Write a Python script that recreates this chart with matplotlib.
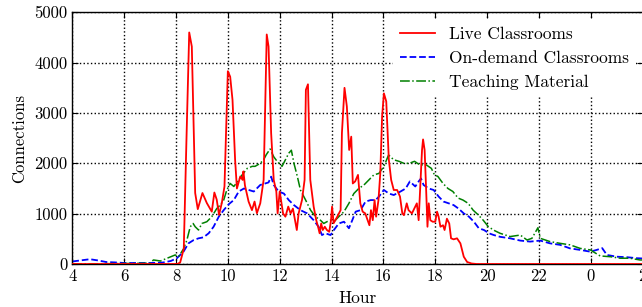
import matplotlib
matplotlib.use("Agg")
import matplotlib.pyplot as plt

plt.rcParams['font.family'] = ['cmr10', 'DejaVu Serif']
plt.rcParams['axes.formatter.use_mathtext'] = True
plt.rcParams['mathtext.fontset'] = 'cm'

# ---- data (hours since midnight, >24 means next day) ----
live_hours = [4.0, 7.0, 8.05, 8.16, 8.3, 8.4, 8.51, 8.61, 8.74, 8.84, 9.02, 9.19, 9.38, 9.48, 9.57,
              9.66, 9.77, 9.87, 9.96, 10.0, 10.09, 10.18, 10.28, 10.35, 10.48, 10.57, 10.6, 10.66,
              10.8, 10.93, 11.03, 11.12, 11.25, 11.38, 11.5, 11.57, 11.67, 11.77, 11.87, 11.92,
              12.0, 12.05, 12.13, 12.22, 12.33, 12.42, 12.51, 12.59, 12.66, 12.73, 12.86, 12.96,
              13.01, 13.09, 13.18, 13.31, 13.41, 13.48, 13.54, 13.6, 13.66, 13.74, 13.82, 13.91,
              13.98, 14.02, 14.08, 14.22, 14.35, 14.4, 14.5, 14.59, 14.68, 14.76, 14.82, 14.91,
              15.02, 15.11, 15.2, 15.3, 15.39, 15.46, 15.52, 15.59, 15.66, 15.72, 15.81, 15.88,
              15.95, 16.02, 16.11, 16.21, 16.3, 16.4, 16.53, 16.64, 16.73, 16.79, 16.9, 16.97,
              17.1, 17.23, 17.29, 17.36, 17.43, 17.49, 17.53, 17.59, 17.64, 17.7, 17.75, 17.81,
              17.9, 18.0, 18.07, 18.13, 18.2, 18.3, 18.36, 18.45, 18.54, 18.61, 18.71, 18.84,
              18.97, 19.1, 19.23, 19.4, 19.6, 22.0, 26.0]
live_values = [0, 0, 0, 30, 300, 2400, 4600, 4320, 1410, 1090, 1410, 1210, 1040, 1420, 1280,
               975, 1220, 1540, 3100, 3830, 3720, 3260, 2070, 1500, 1740, 1670, 1840, 1560,
               1240, 1070, 1240, 1010, 1205, 1670, 4560, 4320, 2600, 1670, 1440, 1005,
               1440, 1270, 1005, 940, 1140, 1005, 1100, 870, 675, 1005, 1270, 1670,
               3460, 3570, 1670, 1140, 870, 740, 610, 805, 675, 740, 675, 640,
               870, 1140, 810, 940, 1070, 2600, 3500, 3130, 2265, 2530, 1600, 1640,
               1770, 1205, 1040, 1005, 870, 770, 1070, 870, 1270, 940, 1270, 1800,
               2930, 3390, 3230, 2070, 1670, 1470, 1470, 1340, 1005, 970, 1205, 1070,
               1005, 1140, 1205, 870, 1600, 2265, 2475, 2265, 1600, 740, 1205, 870,
               840, 840, 1040, 940, 740, 770, 675, 900, 805, 510, 490, 510,
               410, 145, 40, 10, 0, 0, 0]

ondemand_hours = [4.0, 4.3, 4.68, 5.0, 5.3, 5.7, 6.0, 7.0, 7.5, 7.8, 8.03, 8.29, 8.48, 8.68, 8.87,
                  9.06, 9.26, 9.45, 9.65, 9.84, 10.04, 10.23, 10.42, 10.62, 10.81, 11.0, 11.25,
                  11.44, 11.57, 11.67, 11.77, 11.96, 12.16, 12.35, 12.55, 12.8, 13.06, 13.31, 13.5,
                  13.63, 13.76, 13.96, 14.09, 14.28, 14.48, 14.67, 14.8, 14.93, 15.12, 15.31, 15.51,
                  15.7, 15.83, 16.02, 16.21, 16.4, 16.66, 16.86, 17.02, 17.23, 17.36, 17.45, 17.55,
                  17.75, 17.94, 18.13, 18.32, 18.52, 18.71, 18.9, 19.1, 19.3, 19.49, 19.68, 19.88,
                  20.07, 20.26, 20.5, 20.89, 21.28, 21.66, 22.05, 22.43, 22.82, 23.2, 23.59, 23.98,
                  24.23, 24.44, 24.62, 25.0, 25.4, 25.78, 26.0]
ondemand_values = [50, 70, 95, 70, 40, 30, 20, 20, 30, 60, 113, 245, 410, 475, 510,
                   530, 610, 740, 940, 1070, 1190, 1270, 1440, 1500, 1470, 1440, 1570,
                   1600, 1620, 1735, 1570, 1440, 1400, 1270, 1170, 1070, 1005, 870, 740,
                   575, 610, 575, 675, 805, 840, 710, 870, 1040, 1070, 1240, 1270,
                   1270, 1340, 1470, 1400, 1370, 1440, 1500, 1640, 1540, 1640, 1700, 1570,
                   1500, 1470, 1340, 1240, 1205, 1170, 1100, 1005, 940, 840, 710, 675,
                   610, 575, 540, 510, 465, 445, 465, 410, 380, 310, 280, 245,
                   280, 315, 180, 145, 135, 115, 110]

material_hours = [4.0, 5.0, 6.0, 7.0, 7.13, 7.4, 7.65, 7.97, 8.1, 8.29, 8.42, 8.55, 8.66, 8.74, 8.87,
                  9.0, 9.19, 9.38, 9.57, 9.7, 9.84, 9.96, 10.09, 10.23, 10.42, 10.55, 10.75, 10.94,
                  11.05, 11.25, 11.38, 11.48, 11.63, 11.77, 11.9, 12.09, 12.22, 12.35, 12.45, 12.55,
                  12.68, 12.8, 13.0, 13.19, 13.38, 13.57, 13.7, 13.82, 13.96, 14.09, 14.28, 14.48,
                  14.67, 14.86, 15.05, 15.25, 15.44, 15.63, 15.83, 16.02, 16.2, 16.4, 16.6, 16.79,
                  17.0, 17.2, 17.4, 17.65, 17.85, 17.97, 18.1, 18.3, 18.49, 18.68, 18.88, 19.07,
                  19.27, 19.46, 19.66, 19.85, 20.05, 20.3, 20.5, 20.89, 21.28, 21.54, 21.73, 21.96,
                  22.05, 22.43, 22.82, 23.2, 23.59, 23.98, 24.36, 24.75, 25.13, 25.5, 25.9, 26.0]
material_values = [5, 5, 10, 15, 80, 60, 113, 180, 145, 300, 475, 740, 805, 740, 675,
                   805, 840, 940, 1100, 1170, 1270, 1470, 1600, 1540, 1670, 1770, 1900, 1940,
                   1940, 2000, 2070, 2170, 2285, 2130, 2040, 1940, 2070, 2200, 2260, 2000,
                   1740, 1470, 1270, 1070, 940, 870, 805, 840, 870, 840, 940, 1040,
                   1205, 1400, 1500, 1570, 1670, 1770, 1800, 1940, 2165, 2070, 2040, 2000,
                   2000, 2040, 1970, 1970, 1900, 1770, 1740, 1600, 1500, 1440, 1310, 1270,
                   1205, 1070, 975, 870, 740, 660, 610, 545, 575, 477, 510, 720,
                   510, 445, 410, 380, 310, 280, 160, 145, 115, 115, 80, 80]

series_labels = ['Live Classrooms', 'On-demand Classrooms', 'Teaching Material']
x_ticks = [4, 6, 8, 10, 12, 14, 16, 18, 20, 22, 24, 26]
x_tick_labels = ['4', '6', '8', '10', '12', '14', '16', '18', '20', '22', '0', '2']
y_ticks = [0, 1000, 2000, 3000, 4000, 5000]

fig = plt.figure(figsize=(6.42, 3.07), dpi=100)
ax = fig.add_axes([72.3 / 642, 1 - 264 / 307, 1 - 72.3 / 642 + 0.001, (264 - 12.3) / 307])

ax.plot(live_hours, live_values, color='#ff0000', linestyle='-', linewidth=1.3, label=series_labels[0], zorder=3)
ax.plot(ondemand_hours, ondemand_values, color='#0000ff', linestyle='--', linewidth=1.3, label=series_labels[1], zorder=2)
ax.plot(material_hours, material_values, color='#008000', linestyle='-.', linewidth=1.1, label=series_labels[2], zorder=2)

ax.set_xlim(4, 26)
ax.set_ylim(0, 5000)
ax.set_xticks(x_ticks)
ax.set_xticklabels(x_tick_labels)
ax.set_yticks(y_ticks)
ax.set_yticklabels([str(v) for v in y_ticks])
ax.tick_params(direction='in', top=True, right=True, labelsize=12, length=4)
ax.grid(True, linestyle=':', color='k', linewidth=1.0)
ax.set_axisbelow(True)
ax.set_xlabel('Hour', fontsize=12.5, labelpad=5)
ax.set_ylabel('Connections', fontsize=12, labelpad=5)
for s in ax.spines.values():
    s.set_linewidth(1.0)

leg = ax.legend(loc='upper right', fontsize=12.5, frameon=True, fancybox=False,
                edgecolor='none', facecolor='white', framealpha=1.0,
                handlelength=2.0, handletextpad=0.8, borderaxespad=0.5,
                labelspacing=0.5, bbox_to_anchor=(1.003, 1.005))

fig.savefig('out.png', dpi=100)
